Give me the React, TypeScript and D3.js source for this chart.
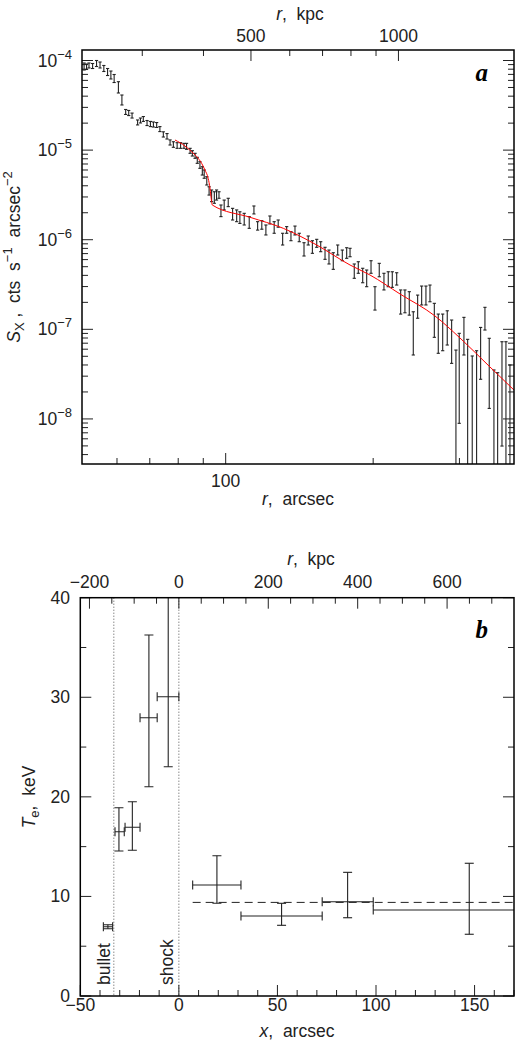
import React from 'react';
import * as d3 from 'd3';

const W = 523;
const H = 1044;

// ---------- Panel a: X-ray surface brightness profile ----------
const profR = [51.4, 52.0, 52.6, 53.5, 54.5, 55.4, 56.4, 57.4, 58.3, 59.2, 60.4, 61.4, 62.5, 63.4, 64.4, 66.1, 67.0, 67.9, 69.1, 70.2, 71.2, 72.3, 73.4, 74.6, 75.9, 77.0, 78.2, 79.6, 80.9, 82.2, 83.2, 84.6, 85.5, 86.6, 87.5, 88.6, 89.6, 90.4, 91.5, 92.5, 93.6, 94.8, 95.8, 96.9, 97.8, 99.3, 101.2, 103.3, 105.3, 106.9, 109.1, 111.7, 114.2, 116.2, 118.5, 120.8, 123.1, 125.6, 128.0, 130.7, 133.2, 135.9, 138.5, 141.3, 144.5, 147.4, 150.3, 153.4, 156.3, 159.5, 162.5, 165.8, 169.3, 173.0, 176.6, 179.4, 183.0, 186.5, 190.4, 194.0, 198.0, 201.7, 205.8, 210.4, 214.7, 218.8, 223.4, 227.6, 232.2, 237.0, 241.5, 246.5, 251.2, 256.3, 261.2, 266.6, 271.6, 277.3, 283.3, 289.2, 295.1, 299.7, 306.4, 311.8, 318.6, 325.2, 331.4, 338.2, 345.1, 352.8, 359.0, 366.4, 373.3, 380.4];
const profHi = [9.38e-5, 9.14e-5, 9.38e-5, 9.26e-5, 1.0e-4, 9.62e-5, 8.80e-5, 8.14e-5, 7.63e-5, 6.98e-5, 5.80e-5, 4.12e-5, 2.84e-5, 2.77e-5, 2.59e-5, 2.17e-5, 2.28e-5, 2.37e-5, 2.14e-5, 2.09e-5, 2.06e-5, 2.03e-5, 1.83e-5, 1.60e-5, 1.53e-5, 1.30e-5, 1.24e-5, 1.21e-5, 1.21e-5, 1.19e-5, 1.19e-5, 1.047e-5, 9.85e-6, 9.21e-6, 8.31e-6, 7.42e-6, 6.53e-6, 6.00e-6, 5.05e-6, 3.90e-6, 3.59e-6, 3.43e-6, 3.59e-6, 3.43e-6, 2.44e-6, 2.77e-6, 2.90e-6, 2.24e-6, 2.15e-6, 2.05e-6, 1.97e-6, 1.81e-6, 2.38e-6, 1.59e-6, 1.63e-6, 1.46e-6, 1.84e-6, 1.59e-6, 1.66e-6, 1.18e-6, 1.40e-6, 1.23e-6, 1.42e-6, 1.18e-6, 9.26e-7, 1.10e-6, 9.75e-7, 1.01e-6, 9.50e-7, 8.23e-7, 7.67e-7, 7.16e-7, 8.73e-7, 7.67e-7, 8.14e-7, 8.02e-7, 5.36e-7, 5.68e-7, 4.80e-7, 4.59e-7, 5.83e-7, 2.99e-7, 5.45e-7, 4.22e-7, 4.39e-7, 4.39e-7, 4.28e-7, 2.75e-7, 2.75e-7, 2.63e-7, 1.57e-7, 2.41e-7, 3.04e-7, 3.04e-7, 3.12e-7, 1.95e-7, 1.48e-7, 1.48e-7, 1.61e-7, 1.27e-7, 5.87e-8, 9.02e-8, 1.36e-7, 7.73e-8, 5.04e-8, 5.77e-8, 1.05e-7, 1.76e-7, 7.94e-8, 3.52e-8, 3.28e-8, 7.27e-8, 7.27e-8, 4.00e-8];
const profLo = [7.83e-5, 7.94e-5, 8.25e-5, 8.14e-5, 8.57e-5, 8.25e-5, 7.54e-5, 6.80e-5, 6.22e-5, 5.68e-5, 4.34e-5, 3.19e-5, 2.50e-5, 2.43e-5, 2.28e-5, 1.91e-5, 2.01e-5, 2.09e-5, 1.88e-5, 1.83e-5, 1.81e-5, 1.79e-5, 1.61e-5, 1.40e-5, 1.33e-5, 1.14e-5, 1.075e-5, 1.047e-5, 1.047e-5, 1.047e-5, 1.02e-5, 9.21e-6, 8.59e-6, 8.10e-6, 7.12e-6, 6.26e-6, 5.27e-6, 4.85e-6, 4.08e-6, 3.15e-6, 2.66e-6, 2.55e-6, 2.77e-6, 2.90e-6, 1.81e-6, 2.15e-6, 2.34e-6, 1.66e-6, 1.59e-6, 1.52e-6, 1.46e-6, 1.34e-6, 1.94e-6, 1.28e-6, 1.31e-6, 1.13e-6, 1.50e-6, 1.18e-6, 1.38e-6, 8.73e-7, 1.18e-6, 9.75e-7, 1.13e-6, 9.50e-7, 6.58e-7, 8.73e-7, 7.05e-7, 8.23e-7, 7.35e-7, 6.04e-7, 5.36e-7, 4.67e-7, 6.75e-7, 5.83e-7, 6.20e-7, 6.46e-7, 3.71e-7, 4.22e-7, 3.31e-7, 2.99e-7, 4.22e-7, 1.64e-7, 3.86e-7, 2.75e-7, 2.99e-7, 2.94e-7, 3.12e-7, 1.48e-7, 1.53e-7, 1.44e-7, 5.17e-8, 1.33e-7, 1.87e-7, 1.87e-7, 2.03e-7, 8.14e-8, 5.40e-8, 5.77e-8, 6.68e-8, 4.17e-8, 1e-9, 8.93e-9, 5.17e-8, 1e-9, 1e-9, 1e-9, 2.77e-8, 9.82e-8, 1.31e-8, 1e-9, 1e-9, 4.98e-9, 1e-9, 1e-9];

// model (red) curve
const modelR = [78.8, 82.6, 85.2, 87.3, 89.3, 90.7, 92.1, 92.9, 93.6, 93.9, 112.1, 131.1, 153.4, 179.4, 197.0, 226.9, 267.4, 300.8, 346.3, 387.7];
const modelS = [1.297e-5, 1.11e-5, 9.6e-6, 8.44e-6, 7.13e-6, 6.0e-6, 4.84e-6, 3.75e-6, 2.66e-6, 2.44e-6, 1.78e-6, 1.34e-6, 8.73e-7, 5.22e-7, 4.04e-7, 2.48e-7, 1.41e-7, 8.0e-8, 3.8e-8, 2.1e-8];

const aKpcMajor = [500, 1000];
const aKpcMinor = [300, 400, 600, 700, 800, 900];
const aKpcPerArcsec = 4.44;

// ---------- Panel b: temperature profile ----------
const tempX = [-36.0, -30.4, -23.6, -15.2, -5.4, 19.3, 52.1, 85.6, 147.3];
const tempXLo = [-38.3, -32.4, -27.3, -19.7, -11.0, 7.0, 31.5, 72.7, 98.6];
const tempXHi = [-33.6, -27.7, -19.7, -11.0, 0.0, 31.5, 72.7, 98.6, 175];
const tempT = [6.96, 16.5, 16.94, 27.95, 30.06, 11.15, 8.03, 9.47, 8.64];
const tempTLo = [6.76, 14.56, 14.63, 21.02, 23.03, 9.31, 7.10, 7.86, 6.20];
const tempTHi = [7.16, 18.9, 19.51, 36.25, 45, 14.09, 9.31, 12.42, 13.33];
const meanT = 9.4;
const meanFrom = 7.0;
const markerX = [-33, 0];
const markerLabel = ['bullet', 'shock'];
const bXMajor = [-50, 0, 50, 100, 150];
const bYMajor = [0, 10, 20, 30, 40];
const bKpcMajor = [-200, 0, 200, 400, 600];
const bKpcPerArcsec = 4.41;

const FONT = "'Liberation Sans', Arial, sans-serif";
const INK = '#222';

export default function App() {
  // panel a scales
  const xa = d3.scaleLog().domain([50.9, 387.7]).range([82, 514]);
  const ya = d3.scaleLog().domain([3.14e-9, 1.31e-4]).range([464, 50]);
  const aL = 82, aR = 514, aT = 50, aB = 464;

  // panel b scales
  const xb = d3.scaleLinear().domain([-50, 170]).range([80.3, 514]);
  const yb = d3.scaleLinear().domain([0, 40]).range([996, 597.7]);
  const bL = 80.3, bR = 514, bT = 597.7, bB = 996;

  const yTicksA = ya.ticks();
  const isMajorLog = (v: number) => Math.abs(Math.log10(v) - Math.round(Math.log10(v))) < 1e-6;
  const xTicksA = xa.ticks();

  const line = d3.line<number>()
    .x((_, i) => xa(modelR[i]))
    .y((_, i) => ya(modelS[i]))
    .curve(d3.curveMonotoneX);

  const bXMinor = d3.range(-50, 171, 10);
  const bYMinor = d3.range(0, 41, 5);
  const bKpcMinor = d3.range(-200, 751, 50).filter((k) => k / bKpcPerArcsec <= 170);

  const cap = 1.6;
  const capB = 4.5;

  return (
    <svg width={W} height={H} style={{ position: 'absolute', left: 0, top: 0, background: '#fff' }}
      fontFamily={FONT}>
      <defs>
        <clipPath id="clipA"><rect x={aL} y={aT} width={aR - aL} height={aB - aT} /></clipPath>
        <clipPath id="clipB"><rect x={bL} y={bT} width={bR - bL} height={bB - bT} /></clipPath>
      </defs>

      {/* ================= Panel a ================= */}
      <g clipPath="url(#clipA)">
        {profR.map((r, i) => {
          const x = xa(r);
          const y1 = ya(profHi[i]);
          const y2 = ya(profLo[i]);
          return (
            <g key={i} stroke={INK} strokeWidth={1.1}>
              <line x1={x} x2={x} y1={y1} y2={y2} />
              <line x1={x - cap} x2={x + cap} y1={y1} y2={y1} />
              <line x1={x - cap} x2={x + cap} y1={y2} y2={y2} />
            </g>
          );
        })}
        <path d={line(modelR) || ''} fill="none" stroke="#ff0000" strokeWidth={1} />
      </g>

      {/* y ticks left/right */}
      {yTicksA.map((v, i) => {
        const y = ya(v);
        const len = isMajorLog(v) ? 11 : 6;
        return (
          <g key={'ya' + i} stroke={INK} strokeWidth={1}>
            <line x1={aL} x2={aL + len} y1={y} y2={y} />
            <line x1={aR} x2={aR - len} y1={y} y2={y} />
          </g>
        );
      })}
      {yTicksA.filter(isMajorLog).map((v, i) => (
        <text key={'yal' + i} x={72} y={ya(v) + 6} textAnchor="end" fontSize={17.5} fill={INK}>
          10<tspan dy={-8} fontSize={13}>{'\u2212' + Math.round(-Math.log10(v))}</tspan>
        </text>
      ))}
      {/* x ticks bottom */}
      {xTicksA.map((v, i) => {
        const x = xa(v);
        const len = isMajorLog(v) ? 11 : 6;
        return <line key={'xa' + i} x1={x} x2={x} y1={aB} y2={aB - len} stroke={INK} strokeWidth={1} />;
      })}
      {xTicksA.filter(isMajorLog).map((v, i) => (
        <text key={'xal' + i} x={xa(v)} y={487} textAnchor="middle" fontSize={17.5} fill={INK}>{v}</text>
      ))}
      {/* top kpc ticks */}
      {aKpcMinor.map((k) => {
        const x = xa(k / aKpcPerArcsec);
        return <line key={'ka' + k} x1={x} x2={x} y1={aT} y2={aT + 6} stroke={INK} strokeWidth={1} />;
      })}
      {aKpcMajor.map((k) => {
        const x = xa(k / aKpcPerArcsec);
        return (
          <g key={'kam' + k}>
            <line x1={x} x2={x} y1={aT} y2={aT + 11} stroke={INK} strokeWidth={1} />
            <text x={x} y={41.5} textAnchor="middle" fontSize={17.5} fill={INK}>{k}</text>
          </g>
        );
      })}
      <rect x={aL} y={aT} width={aR - aL} height={aB - aT} fill="none" stroke="#000" strokeWidth={1.5} />

      <text x={300} y={20} textAnchor="middle" fontSize={17.5} fill={INK} style={{ whiteSpace: 'pre' }}>
        <tspan fontStyle="italic">r</tspan>{',  kpc'}
      </text>
      <text x={298} y={505} textAnchor="middle" fontSize={17.5} fill={INK} style={{ whiteSpace: 'pre' }}>
        <tspan fontStyle="italic">r</tspan>{',  arcsec'}
      </text>
      <text transform="translate(20,257) rotate(-90)" textAnchor="middle" fontSize={17.5} fill={INK}
        style={{ whiteSpace: 'pre' }}>
        <tspan fontStyle="italic">S</tspan>
        <tspan dy={4} fontSize={13}>X</tspan>
        <tspan dy={-4}>{' ,  cts  s'}</tspan>
        <tspan dy={-8} fontSize={13}>{'\u22121'}</tspan>
        <tspan dy={8}>{'  arcsec'}</tspan>
        <tspan dy={-8} fontSize={13}>{'\u22122'}</tspan>
      </text>
      <text x={488} y={81} textAnchor="end" fontSize={25} fontWeight="bold" fontStyle="italic"
        fontFamily="'Liberation Serif', 'Times New Roman', serif" fill="#000">a</text>

      {/* ================= Panel b ================= */}
      <g clipPath="url(#clipB)">
        {markerX.map((m, i) => (
          <line key={'mk' + i} x1={xb(m)} x2={xb(m)} y1={bT} y2={bB} stroke="#555" strokeWidth={1}
            strokeDasharray="1,2" />
        ))}
        <line x1={xb(meanFrom)} x2={bR} y1={yb(meanT)} y2={yb(meanT)} stroke={INK} strokeWidth={1}
          strokeDasharray="8,5" />
        {tempX.map((xv, i) => {
          const x = xb(xv);
          const y = yb(tempT[i]);
          const yHi = yb(tempTHi[i]);
          const yLo = yb(tempTLo[i]);
          const xLo = xb(tempXLo[i]);
          const xHi = xb(tempXHi[i]);
          return (
            <g key={'t' + i} stroke={INK} strokeWidth={1.1}>
              <line x1={x} x2={x} y1={yHi} y2={yLo} />
              <line x1={x - capB} x2={x + capB} y1={yHi} y2={yHi} />
              <line x1={x - capB} x2={x + capB} y1={yLo} y2={yLo} />
              <line x1={xLo} x2={xHi} y1={y} y2={y} />
              <line x1={xLo} x2={xLo} y1={y - capB} y2={y + capB} />
              <line x1={xHi} x2={xHi} y1={y - capB} y2={y + capB} />
            </g>
          );
        })}
      </g>
      {markerX.map((m, i) => (
        <text key={'ml' + i} transform={`translate(${xb(m) - 4 - i * 2},985) rotate(-90)`} textAnchor="start"
          fontSize={17.5} fill={INK}>{markerLabel[i]}</text>
      ))}

      {/* y ticks */}
      {bYMinor.map((v) => {
        const y = yb(v);
        const len = v % 10 === 0 ? 11 : 6;
        return (
          <g key={'yb' + v} stroke={INK} strokeWidth={1}>
            <line x1={bL} x2={bL + len} y1={y} y2={y} />
            <line x1={bR} x2={bR - len} y1={y} y2={y} />
          </g>
        );
      })}
      {bYMajor.map((v) => (
        <text key={'ybl' + v} x={70} y={yb(v) + 6} textAnchor="end" fontSize={17.5} fill={INK}>{v}</text>
      ))}
      {/* x ticks bottom */}
      {bXMinor.map((v) => {
        const x = xb(v);
        const len = v % 50 === 0 ? 11 : 6;
        return <line key={'xb' + v} x1={x} x2={x} y1={bB} y2={bB - len} stroke={INK} strokeWidth={1} />;
      })}
      {bXMajor.map((v) => (
        <text key={'xbl' + v} x={xb(v)} y={1011} textAnchor="middle" fontSize={17.5} fill={INK}>
          {v < 0 ? '\u2212' + Math.abs(v) : String(v)}
        </text>
      ))}
      {/* top kpc ticks */}
      {bKpcMinor.map((k) => {
        const x = xb(k / bKpcPerArcsec);
        const len = k % 200 === 0 ? 11 : 6;
        return <line key={'kb' + k} x1={x} x2={x} y1={bT} y2={bT + len} stroke={INK} strokeWidth={1} />;
      })}
      {bKpcMajor.map((k) => (
        <text key={'kbl' + k} x={xb(k / bKpcPerArcsec)} y={588} textAnchor="middle" fontSize={17.5} fill={INK}>
          {k < 0 ? '\u2212' + Math.abs(k) : String(k)}
        </text>
      ))}
      <rect x={bL} y={bT} width={bR - bL} height={bB - bT} fill="none" stroke="#000" strokeWidth={1.5} />

      <text x={311} y={565} textAnchor="middle" fontSize={17.5} fill={INK} style={{ whiteSpace: 'pre' }}>
        <tspan fontStyle="italic">r</tspan>{',  kpc'}
      </text>
      <text x={297} y={1037} textAnchor="middle" fontSize={17.5} fill={INK} style={{ whiteSpace: 'pre' }}>
        <tspan fontStyle="italic">x</tspan>{',  arcsec'}
      </text>
      <text transform="translate(35,797) rotate(-90)" textAnchor="middle" fontSize={17.5} fill={INK}
        style={{ whiteSpace: 'pre' }}>
        <tspan fontStyle="italic">T</tspan>
        <tspan dy={4} fontSize={13}>e</tspan>
        <tspan dy={-4}>{',  keV'}</tspan>
      </text>
      <text x={488} y={638} textAnchor="end" fontSize={25} fontWeight="bold" fontStyle="italic"
        fontFamily="'Liberation Serif', 'Times New Roman', serif" fill="#000">b</text>
    </svg>
  );
}
